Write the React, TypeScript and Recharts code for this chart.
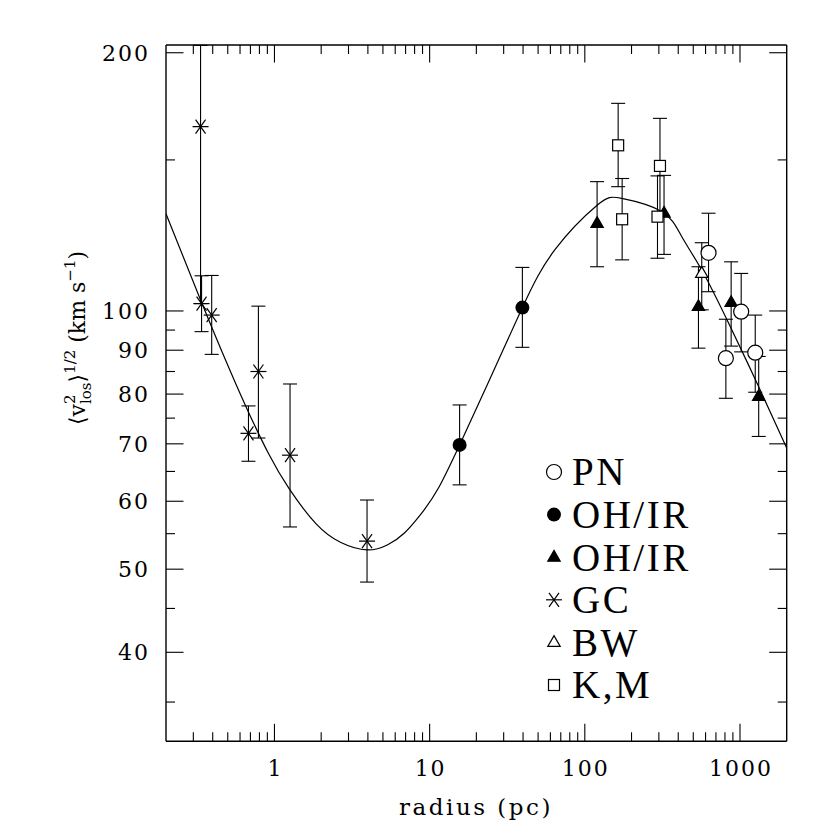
import React from 'react';
import { ComposedChart, Scatter, Line, XAxis, YAxis, ErrorBar } from 'recharts';

// each row: [radius (pc), v, v low, v high]
const PN = [
  [627, 116.9, 105.3, 130],
  [811, 88.1, 79.1, 97.8],
  [1018, 99.8, 89.6, 110.6],
  [1254, 89.4, 80.4, 98.9],
];
const OHIR_DISK = [
  [15.6, 69.8, 62.7, 77.7],
  [39.6, 100.9, 90.7, 112.4],
];
const OHIR_TRI = [
  [120, 126.5, 112.6, 141.5],
  [324, 130, 116.4, 143.9],
  [540, 101.2, 90.5, 112.6],
  [877, 102.3, 91.0, 114.1],
  [1320, 79.5, 71.4, 88.5],
];
const GC = [
  [0.334, 164, 102, 204],
  [0.339, 102, 94.6, 109.9],
  [0.394, 98.9, 89.0, 110],
  [0.68, 72.0, 66.8, 77.5],
  [0.788, 85.0, 71.1, 101.3],
  [1.26, 67.9, 56, 82.2],
  [3.95, 53.9, 48.3, 60.2],
];
const BW = [[567, 110.6, 100.3, 120.1]];
const KM = [
  [164, 156, 139.6, 174.6],
  [174, 127.9, 114.7, 142.7],
  [305, 147.6, 130, 167.7],
  [294, 128.8, 115.2, 143.7],
];

// model curve
const CURVE_R = [0.2, 0.334, 0.509, 0.685, 0.919, 1.24, 1.85, 2.68, 3.95, 5.37, 6.88, 8.81, 11.3, 15.6, 23.8, 39.6, 64, 120, 173, 313, 421, 567, 844, 1320, 2000];
const CURVE_V = [129.8, 103.0, 85.8, 76.0, 68.1, 62.1, 56.5, 53.7, 52.65, 53.4, 55.1, 58.0, 62.0, 69.8, 82.4, 100.9, 117.8, 132.8, 135.3, 130.6, 122.1, 111.6, 96.8, 81.6, 69.2];

const X_MAJOR = [1, 10, 100, 1000];
const X_MINOR = [0.3, 0.4, 0.5, 0.6, 0.7, 0.8, 0.9, 2, 3, 4, 5, 6, 7, 8, 9, 20, 30, 40, 50, 60, 70, 80, 90, 200, 300, 400, 500, 600, 700, 800, 900];
const Y_MAJOR = [40, 50, 60, 70, 80, 90, 100, 200];
const Y_MINOR = [35, 45, 55, 65, 75, 85, 95, 150];

const LEGEND = [
  { kind: 'pn', label: 'PN' },
  { kind: 'disk', label: 'OH/IR' },
  { kind: 'tri', label: 'OH/IR' },
  { kind: 'gc', label: 'GC' },
  { kind: 'bw', label: 'BW' },
  { kind: 'km', label: 'K,M' },
];

const toPoints = (rows: number[][]) =>
  rows.map(([r, v, lo, hi]) => ({ r, v, err: [v - lo, hi - v] }));

const curve = CURVE_R.map((r, i) => ({ r, v: CURVE_V[i] }));

const X_TICKS = [...X_MINOR, ...X_MAJOR].sort((a, b) => a - b);
const Y_TICKS = [...Y_MINOR, ...Y_MAJOR].sort((a, b) => a - b);

const W = 822;
const H = 822;
// axes take 1px each, so the plot box lands at 166..786.7 x 45..741.3 on the page
const MARGIN = { top: 36, left: 157, right: 42.3, bottom: 87.7 };
const MAJ = 17.5;
const MIN = 9;
const INK = '#000';

const tickFont = { fontFamily: '"DejaVu Serif", serif', fontSize: 22, letterSpacing: 2, fill: INK };

const tri = (cx: number, cy: number) =>
  `${cx},${cy - 6.8} ${cx + 6.2},${cy + 4} ${cx - 6.2},${cy + 4}`;

function Marker({ kind, cx, cy }: { kind: string; cx: number; cy: number }) {
  const s = { stroke: INK, strokeWidth: 1.2 };
  switch (kind) {
    case 'pn':
      return <circle cx={cx} cy={cy} r={7.5} fill="#fff" {...s} />;
    case 'disk':
      return <circle cx={cx} cy={cy} r={7} fill={INK} />;
    case 'tri':
      return <polygon points={tri(cx, cy)} fill={INK} {...s} />;
    case 'bw':
      return <polygon points={tri(cx, cy)} fill="#fff" {...s} />;
    case 'km':
      return <rect x={cx - 5.5} y={cy - 5.5} width={11} height={11} fill="#fff" {...s} />;
    default:
      return (
        <g {...s}>
          <line x1={cx - 8} y1={cy} x2={cx + 8} y2={cy} />
          <line x1={cx - 5} y1={cy - 7} x2={cx + 5} y2={cy + 7} />
          <line x1={cx + 5} y1={cy - 7} x2={cx - 5} y2={cy + 7} />
        </g>
      );
  }
}

const XTick = (props: any) => {
  const { x, y, payload, side } = props;
  const major = X_MAJOR.includes(payload.value);
  const dir = side === 'bottom' ? -1 : 1;
  return (
    <g>
      <line x1={x} y1={y} x2={x} y2={y + dir * (major ? MAJ : MIN)} stroke={INK} strokeWidth={1.1} />
      {side === 'bottom' && major && (
        <text x={x + 1} y={y + 35} textAnchor="middle" {...tickFont}>
          {payload.value}
        </text>
      )}
    </g>
  );
};

const YTick = (props: any) => {
  const { x, y, payload, side } = props;
  const major = Y_MAJOR.includes(payload.value);
  const dir = side === 'left' ? 1 : -1;
  return (
    <g>
      <line x1={x} y1={y} x2={x + dir * (major ? MAJ : MIN)} y2={y} stroke={INK} strokeWidth={1.1} />
      {side === 'left' && major && (
        <text x={x - 16} y={y + 8} textAnchor="end" {...tickFont}>
          {payload.value}
        </text>
      )}
    </g>
  );
};

const series = [
  { kind: 'gc', rows: GC },
  { kind: 'disk', rows: OHIR_DISK },
  { kind: 'tri', rows: OHIR_TRI },
  { kind: 'km', rows: KM },
  { kind: 'bw', rows: BW },
  { kind: 'pn', rows: PN },
];

const axisCommon = {
  type: 'number' as const,
  scale: 'log' as const,
  allowDataOverflow: true,
  interval: 0 as const,
  tickSize: 0,
  tickMargin: 0,
  tickLine: false,
  axisLine: { stroke: INK, strokeWidth: 1.4 },
};

export default function App() {
  return (
    <div style={{ position: 'relative', width: W, height: H }}>
      <ComposedChart width={W} height={H} margin={MARGIN}>
        <XAxis
          {...axisCommon}
          dataKey="r"
          domain={[0.2, 2000]}
          ticks={X_TICKS}
          height={1}
          tick={(p: any) => <XTick {...p} side="bottom" />}
        />
        <XAxis
          {...axisCommon}
          xAxisId="top"
          orientation="top"
          dataKey="r"
          domain={[0.2, 2000]}
          ticks={X_TICKS}
          height={1}
          tick={(p: any) => <XTick {...p} side="top" />}
        />
        <YAxis
          {...axisCommon}
          dataKey="v"
          domain={[31.5, 204.2]}
          ticks={Y_TICKS}
          width={1}
          tick={(p: any) => <YTick {...p} side="left" />}
        />
        <YAxis
          {...axisCommon}
          yAxisId="right"
          orientation="right"
          dataKey="v"
          domain={[31.5, 204.2]}
          ticks={Y_TICKS}
          width={1}
          tick={(p: any) => <YTick {...p} side="right" />}
        />
        {series.map((s) => (
          <Scatter
            key={s.kind}
            data={toPoints(s.rows)}
            isAnimationActive={false}
            shape={(p: any) => <Marker kind={s.kind} cx={p.cx} cy={p.cy} />}
          >
            <ErrorBar dataKey="err" direction="y" width={7} stroke={INK} strokeWidth={1.1} isAnimationActive={false} />
          </Scatter>
        ))}
        <Line
          data={curve}
          dataKey="v"
          type="natural"
          dot={false}
          activeDot={false}
          stroke={INK}
          strokeWidth={1.2}
          isAnimationActive={false}
        />
      </ComposedChart>

      <svg width={W} height={H} style={{ position: 'absolute', left: 0, top: 0, pointerEvents: 'none' }}>
        <text x={468} y={807} textAnchor="middle" {...tickFont} fontSize={23} letterSpacing={2.5}>
          radius (pc)
        </text>
        <text
          transform="translate(77, 330) rotate(-90)"
          textAnchor="middle"
          fontFamily='"DejaVu Serif", serif'
          fontSize={22}
          fill={INK}
        >
          <tspan>⟨v</tspan>
          <tspan fontSize={15} dy={-10}>2</tspan>
          <tspan fontSize={15} dx={-9.5} dy={16}>los</tspan>
          <tspan dy={-6}>⟩</tspan>
          <tspan fontSize={15} dy={-10}>1/2</tspan>
          <tspan dy={10}> (km s</tspan>
          <tspan fontSize={15} dy={-10}>−1</tspan>
          <tspan dy={10}>)</tspan>
        </text>
        {LEGEND.map((item, i) => {
          const cy = 464 + i * 42.6;
          return (
            <g key={i}>
              <Marker kind={item.kind} cx={546} cy={cy} />
              <text
                x={564}
                y={cy + 13.3}
                fontFamily='"Liberation Serif", serif'
                fontSize={39}
                letterSpacing={2.5}
                fill={INK}
              >
                {item.label}
              </text>
            </g>
          );
        })}
      </svg>
    </div>
  );
}
